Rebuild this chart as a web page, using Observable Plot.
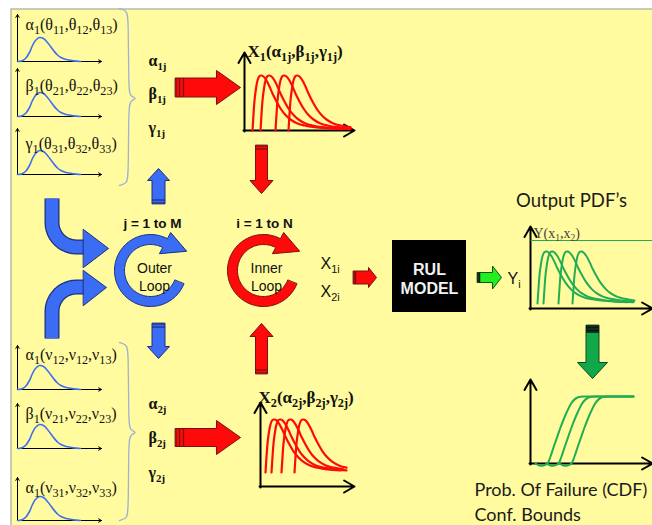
<!DOCTYPE html>
<html><head><meta charset="utf-8">
<script src="https://cdn.jsdelivr.net/npm/d3@7"></script>
<script src="https://cdn.jsdelivr.net/npm/@observablehq/plot@0.6"></script>
<style>body{margin:0;background:#fff}#chart svg{display:block}</style>
</head><body><div id="chart"></div>
<script>
// ---------------- data (text + curve shapes) ----------------
const topParamLabels = ["α_{1}(θ_{11},θ_{12},θ_{13})", "β_{1}(θ_{21},θ_{22},θ_{23})", "γ_{1}(θ_{31},θ_{32},θ_{33})"];
const bottomParamLabels = ["α_{1}(ν_{12},ν_{12},ν_{13})", "β_{1}(ν_{21},ν_{22},ν_{23})", "α_{1}(ν_{31},ν_{32},ν_{33})"];
const sampleLabels1 = ["α_{1j}", "β_{1j}", "γ_{1j}"];
const sampleLabels2 = ["α_{2j}", "β_{2j}", "γ_{2j}"];
const panelTitles = ["X_{1}(α_{1j},β_{1j},γ_{1j})", "X_{2}(α_{2j},β_{2j},γ_{2j})"];
const loopCounters = ["j = 1 to M", "i = 1 to N"];
const loopNames = [["Outer", "Loop"], ["Inner", "Loop"]];
const inputVars = ["X_{1i}", "X_{2i}"];
const modelLabel = ["RUL", "MODEL"];
const outputVar = "Y_{i}";
const outputTitle = "Output PDF’s";
const outputAxisLabel = "Y(x_{1},x_{2})";
const cdfCaption = ["Prob. Of Failure (CDF)", "Conf. Bounds"];

// parameter prior shape: [offset, height]
const blueShape = [[0,0],[4,0.5],[8,3],[12,9],[15,16],[18,21],[22,24],[26,23],[30,19],[33,15],[36,11],[40,6.5],[43,4.3],[47,2.6],[50,1.7],[56,0.6],[63,0]];
// sampled PDF shape: [offset, height]
const pdfShape = [[0,0],[1,16],[2,30],[3.5,42],[5,50],[7,54.5],[9,55],[11,54],[14,50],[17,44],[20,37],[24,29],[28,22],[33,15.5],[38,11],[45,7],[52,5],[62,3.3],[75,2.2],[90,1.4],[110,0.9]];
// CDF shape: [offset, height]
const cdfShape = [[-12,0],[-8,-2],[-4,-2],[0,0],[3,7],[6,16],[9.5,26],[13,36],[16.5,45],[20,53],[23,59],[26,63],[29,65.5],[33,66.7],[38,67]];
const x1Starts = [252, 260, 275, 288];
const x2Starts = [265, 271, 281, 294];
const yStarts = [537, 543, 558, 572];
const cdfStarts = [547, 558, 571];

// ---------------- layout ----------------
const W = 652, H = 525;
const SERIF = "'Liberation Serif','Times New Roman',serif";
const SANS = "'Liberation Sans',Arial,sans-serif";
const CAL = "Lato,'Open Sans',sans-serif";
const YELLOW = "#fffb9e", BLUE = "#3a6cf4", BLUE_D = "#1c2f80", RED = "#ff0a0a", RED_D = "#7a1010", GREEN = "#22ad55";

const ctx = document.createElement("canvas").getContext("2d");
const measure = (t, size, weight, family) => { ctx.font = `${weight} ${size}px ${family}`; return ctx.measureText(t).width; };
function parseRich(str) {
  const out = []; const re = /_\{([^}]*)\}/g; let last = 0, m;
  while ((m = re.exec(str))) { if (m.index > last) out.push({t: str.slice(last, m.index), sub: false}); out.push({t: m[1], sub: true}); last = re.lastIndex; }
  if (last < str.length) out.push({t: str.slice(last), sub: false});
  return out;
}
function rich(str, x, y, size, style, anchor = "start", ratio = 0.68) {
  const segs = parseRich(str), sub = size * ratio;
  const w = segs.map(s => measure(s.t, s.sub ? sub : size, style.weight, style.family));
  let cx = anchor === "middle" ? x - d3.sum(w) / 2 : x;
  return segs.map((s, i) => { const r = {x: cx, y: s.sub ? y + size * 0.28 : y, text: s.t, size: s.sub ? sub : size}; cx += w[i]; return r; });
}
const sty = {
  serif: {family: SERIF, weight: "normal", fill: "#111"},
  serifB: {family: SERIF, weight: "bold", fill: "#111"},
  sansB: {family: SANS, weight: "bold", fill: "#111"},
  sans: {family: SANS, weight: "normal", fill: "#111"},
  white: {family: SANS, weight: "bold", fill: "#f2f2f2"},
  cal: {family: CAL, weight: "normal", fill: "#1a1a1a"},
  gray: {family: SERIF, weight: "normal", fill: "#444"}
};
const textRows = Object.fromEntries(Object.keys(sty).map(k => [k, []]));
const addText = (k, str, x, y, size, anchor, ratio) => textRows[k].push(...rich(str, x, y, size, sty[k], anchor, ratio));

topParamLabels.forEach((s, i) => addText("serif", s, 25, [29, 90, 148][i], 16, "start", 0.76));
bottomParamLabels.forEach((s, i) => addText("serif", s, 25, [359, 418, 492][i], 16, "start", 0.76));
sampleLabels1.forEach((s, i) => addText("serifB", s, 148, [65, 98, 132][i], 16));
sampleLabels2.forEach((s, i) => addText("serifB", s, 148, [408, 442, 477][i], 16));
addText("serifB", panelTitles[0], 247, 56, 17, "start", 0.72);
addText("serifB", panelTitles[1], 258, 402, 17, "start", 0.72);
addText("sansB", loopCounters[0], 152, 227, 13.5, "middle");
addText("sansB", loopCounters[1], 264, 227, 13.5, "middle");
loopNames[0].forEach((s, i) => addText("sans", s, 154, [272, 290][i], 14, "middle"));
loopNames[1].forEach((s, i) => addText("sans", s, 266, [272, 290][i], 14, "middle"));
inputVars.forEach((s, i) => addText("sans", s, 320, [268, 296][i], 16));
modelLabel.forEach((s, i) => addText("white", s, 429, [274, 293][i], 16, "middle"));
addText("sans", outputVar, 507, 283, 16);
addText("cal", outputTitle, 571, 206, 18.5, "middle");
addText("gray", outputAxisLabel, 533, 237, 14);
cdfCaption.forEach((s, i) => addText("cal", s, 474, [495, 520][i], 18));

// curves
const curves = {blue: [], red: [], green: []};
const blueBases = [61, 116, 174, 389, 448, 520];
blueBases.forEach((b, k) => blueShape.forEach(([dx, h]) => curves.blue.push({id: k, x: 17 + dx, y: b - h})));
const addPdf = (arr, starts, base, scale, xmax, tag) => starts.forEach((s, k) => pdfShape.forEach(([dx, h]) => { if (s + dx <= xmax) arr.push({id: tag + k, x: s + dx, y: base - h * scale}); }));
addPdf(curves.red, x1Starts, 130, 1, 350, "a");
addPdf(curves.red, x2Starts, 472, 53 / 55, 350, "b");
addPdf(curves.green, yStarts, 303, 52 / 55, 643, "y");
cdfStarts.forEach((s, k) => { cdfShape.forEach(([dx, h]) => curves.green.push({id: "c" + k, x: s + dx, y: 463 - h})); curves.green.push({id: "c" + k, x: 633, y: 396}); });

// axes with arrow heads
const thinAxes = [];
[[14, 61], [68, 116], [128, 174], [345, 389], [403, 448], [477, 520]].forEach(([t, b]) => {
  thinAxes.push({x1: 17, y1: b, x2: 17, y2: t}, {x1: 17, y1: b, x2: 101, y2: b});
});
const thickAxes = [
  {x1: 244, y1: 131, x2: 244, y2: 52}, {x1: 243, y1: 130, x2: 354, y2: 130},
  {x1: 260, y1: 487, x2: 260, y2: 402}, {x1: 259, y1: 486, x2: 354, y2: 486},
  {x1: 530, y1: 309, x2: 530, y2: 226}, {x1: 529, y1: 308, x2: 652, y2: 308},
  {x1: 530, y1: 464, x2: 530, y2: 379}, {x1: 529, y1: 463, x2: 652, y2: 463}
];

// braces
function brace(xl, xm, xr, y0, ym, y1, id) {
  return [[xl, y0], [xm - 2, y0 + 2], [xm, y0 + 8], [xm, ym - 8], [xm + 2, ym - 2], [xr, ym], [xm + 2, ym + 2], [xm, ym + 8], [xm, y1 - 8], [xm - 2, y1 - 2], [xl, y1]].map(([x, y]) => ({id, x, y}));
}
const braces = [...brace(119, 128, 137, 8, 98, 185, 0), ...brace(119, 128, 137, 342, 432, 520, 1)];

// block arrows
function arrowPoly(x0, y0, x1, y1, hs, hh, hl, id) {
  const L = Math.hypot(x1 - x0, y1 - y0), ux = (x1 - x0) / L, uy = (y1 - y0) / L, px = -uy, py = ux;
  const bx = x1 - ux * hl, by = y1 - uy * hl;
  return [[x0 + px * hs, y0 + py * hs], [bx + px * hs, by + py * hs], [bx + px * hh, by + py * hh], [x1, y1], [bx - px * hh, by - py * hh], [bx - px * hs, by - py * hs], [x0 - px * hs, y0 - py * hs]].map(([x, y]) => ({id, x, y}));
}
function stripes(x0, y0, x1, y1, hs, offs, id) {
  const L = Math.hypot(x1 - x0, y1 - y0), ux = (x1 - x0) / L, uy = (y1 - y0) / L, px = -uy, py = ux;
  return offs.map((o, k) => ({id: id + "_" + k, x1: x0 + ux * o + px * hs, y1: y0 + uy * o + py * hs, x2: x0 + ux * o - px * hs, y2: y0 + uy * o - py * hs}));
}
const redArrows = [
  ...arrowPoly(175, 87, 240, 87, 9.5, 17, 24, "r1"),
  ...arrowPoly(175, 437, 240, 437, 9, 17, 24, "r2"),
  ...arrowPoly(261, 145, 261, 193, 6, 11.5, 13, "r3"),
  ...arrowPoly(261, 373, 261, 323, 6, 11.5, 13, "r4"),
  ...arrowPoly(353, 277, 376, 277, 6.5, 10, 8, "r5")
];
const redStripes = [
  ...stripes(175, 87, 240, 87, 9.5, [0.5, 4, 8], "a"), ...stripes(175, 437, 240, 437, 9, [0.5, 4, 8], "b"),
  ...stripes(261, 145, 261, 193, 6, [0.5, 3.5], "c"), ...stripes(261, 373, 261, 323, 6, [0.5, 3.5], "d"),
  ...stripes(353, 277, 376, 277, 6.5, [0.5, 2], "e")
];
const blueArrows = [...arrowPoly(158, 203, 158, 168, 6.5, 11, 12, "b1"), ...arrowPoly(158, 323, 158, 358, 6.5, 11, 12, "b2")];
const blueStripes = [...stripes(158, 203, 158, 168, 6.5, [0.5, 3.5], "f"), ...stripes(158, 323, 158, 358, 6.5, [0.5, 3.5], "g")];
const limeArrow = arrowPoly(477, 277, 501, 277, 5, 11.5, 9, "g1");
const greenArrow = arrowPoly(592, 325, 592, 378, 6.5, 15, 16, "g2");
const darkBands = [...stripes(477, 277, 501, 277, 5, [0.5, 2], "h"), ...stripes(592, 325, 592, 378, 6.5, [0.5, 2, 3.5, 5, 6.5], "k")];

// curved blue input arrows
function arcPts(cx, cy, r, a0, a1, id) { const out = []; const n = 12; for (let i = 0; i <= n; i++) { const a = (a0 + (a1 - a0) * i / n) * Math.PI / 180; out.push({id, x: cx + r * Math.cos(a), y: cy + r * Math.sin(a)}); } return out; }
const swoop = [
  {id: "s1", x: 51.5, y: 198}, ...arcPts(76, 222, 24.5, 180, 90, "s1"), {id: "s1", x: 86, y: 246.5},
  {id: "s2", x: 51.5, y: 338}, ...arcPts(76, 311, 24.5, 180, 270, "s2"), {id: "s2", x: 86, y: 286.5}
];
const swoopHeads = [
  ...[[83, 229], [108, 248], [83, 267]].map(([x, y]) => ({id: "h1", x, y})),
  ...[[83, 270], [106, 287], [83, 305]].map(([x, y]) => ({id: "h2", x, y}))
];

// loops
function ringPoly(cx, cy, r, w, a0, a1, hh, tipA, tipR, id) {
  const rad = d => d * Math.PI / 180, P = (rr, a) => ({id, x: cx + rr * Math.cos(rad(a)), y: cy + rr * Math.sin(rad(a))});
  const pts = [];
  for (let a = a0; a < a1; a += 3) pts.push(P(r + w / 2, a));
  pts.push(P(r + w / 2, a1), P(r + hh, a1), P(tipR, tipA), P(r - hh, a1), P(r - w / 2, a1));
  for (let a = a1; a > a0; a -= 3) pts.push(P(r - w / 2, a));
  pts.push(P(r - w / 2, a0));
  return pts;
}
const blueRing = ringPoly(150, 270, 31, 10, 22, 298, 12, 332, 41, "o");
const redRing = ringPoly(263, 270, 31, 10, 22, 298, 12, 332, 41, "i");

const poly = (data, fill, stroke, sw = 1) => Plot.line(data, {x: "x", y: "y", z: "id", curve: "linear-closed", fill, stroke, strokeWidth: sw, strokeLinejoin: "miter"});
const seg = (data, stroke, sw) => Plot.link(data, {x1: "x1", y1: "y1", x2: "x2", y2: "y2", stroke, strokeWidth: sw});
const textMark = k => Plot.text(textRows[k], {x: "x", y: "y", text: "text", fontSize: d => d.size, textAnchor: "start", lineAnchor: "bottom", fontFamily: sty[k].family, fontWeight: sty[k].weight, fill: sty[k].fill});

const chart = Plot.plot({
  width: W, height: H, margin: 0,
  x: {domain: [0, W], range: [0, W], axis: null},
  y: {domain: [0, H], range: [0, H], axis: null},
  style: {background: "#fff", overflow: "hidden"},
  marks: [
    Plot.rect([{x1: 11, x2: W + 5, y1: 9, y2: H + 5}], {x1: "x1", x2: "x2", y1: "y1", y2: "y2", fill: YELLOW, stroke: "#a8a8a0", strokeWidth: 1.2}),
    Plot.line(braces, {x: "x", y: "y", z: "id", curve: "basis", stroke: "#9fb2d6", strokeWidth: 1.3}),
    Plot.arrow(thinAxes, {x1: "x1", y1: "y1", x2: "x2", y2: "y2", stroke: "#000", strokeWidth: 1, headLength: 5}),
    Plot.line(curves.blue, {x: "x", y: "y", z: "id", curve: "catmull-rom", stroke: "#3d6ff2", strokeWidth: 1.6}),
    Plot.arrow(thickAxes, {x1: "x1", y1: "y1", x2: "x2", y2: "y2", stroke: "#000", strokeWidth: 2, headLength: 9}),
    Plot.link([{x1: 530, y1: 240, x2: 652, y2: 240}], {x1: "x1", y1: "y1", x2: "x2", y2: "y2", stroke: GREEN, strokeWidth: 1.2}),
    Plot.line(curves.red, {x: "x", y: "y", z: "id", curve: "catmull-rom", stroke: RED, strokeWidth: 2.2}),
    Plot.line(curves.green, {x: "x", y: "y", z: "id", curve: "catmull-rom", stroke: GREEN, strokeWidth: 2}),
    Plot.line(swoop, {x: "x", y: "y", z: "id", curve: "linear", stroke: BLUE_D, strokeWidth: 15, strokeLinecap: "butt", strokeLinejoin: "round"}),
    Plot.line(swoop, {x: "x", y: "y", z: "id", curve: "linear", stroke: BLUE, strokeWidth: 12.5, strokeLinecap: "butt", strokeLinejoin: "round"}),
    poly(swoopHeads, BLUE, BLUE_D),
    poly(redArrows, RED, RED_D),
    seg(redStripes, RED_D, 1.3),
    poly(blueArrows, BLUE, BLUE_D),
    seg(blueStripes, BLUE_D, 1.3),
    poly(limeArrow, "#22ee22", "#115511"),
    poly(greenArrow, "#12a84a", "#0c4a22"),
    seg(darkBands, "#111", 1.5),
    poly(blueRing, BLUE, BLUE_D),
    poly(redRing, RED, RED_D),
    Plot.rect([{x1: 392, x2: 466, y1: 240, y2: 312}], {x1: "x1", x2: "x2", y1: "y1", y2: "y2", fill: "#000"}),
    ...Object.keys(sty).map(textMark)
  ]
});
document.getElementById("chart").append(chart);
</script></body></html>
